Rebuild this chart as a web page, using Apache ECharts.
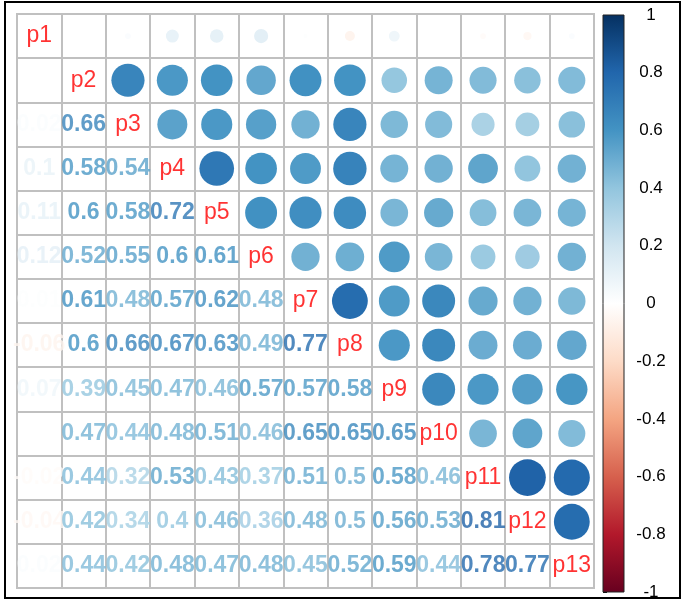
<!DOCTYPE html>
<html>
<head>
<meta charset="utf-8">
<script src="https://cdn.jsdelivr.net/npm/echarts@6/dist/echarts.min.js"></script>
<style>html,body{margin:0;padding:0;background:#fff}#c{width:683px;height:603px}</style>
</head>
<body>
<div id="c"></div>
<script>
// ---- data ----
const vars = ['p1','p2','p3','p4','p5','p6','p7','p8','p9','p10','p11','p12','p13'];
// lower-triangle columns: correlation of variable k with each following variable
const col_p1  = [0, 0.02, 0.1, 0.11, 0.12, 0.01, -0.06, 0.07, 0, -0.02, -0.04, 0.02];
const col_p2  = [0.66, 0.58, 0.6, 0.52, 0.61, 0.6, 0.39, 0.47, 0.44, 0.42, 0.44];
const col_p3  = [0.54, 0.58, 0.55, 0.48, 0.66, 0.45, 0.44, 0.32, 0.34, 0.42];
const col_p4  = [0.72, 0.6, 0.57, 0.67, 0.47, 0.48, 0.53, 0.4, 0.48];
const col_p5  = [0.61, 0.62, 0.63, 0.46, 0.51, 0.43, 0.46, 0.47];
const col_p6  = [0.48, 0.49, 0.57, 0.46, 0.37, 0.36, 0.48];
const col_p7  = [0.77, 0.57, 0.65, 0.51, 0.48, 0.45];
const col_p8  = [0.58, 0.65, 0.5, 0.5, 0.52];
const col_p9  = [0.65, 0.58, 0.56, 0.59];
const col_p10 = [0.46, 0.53, 0.44];
const col_p11 = [0.81, 0.78];
const col_p12 = [0.77];
const colorbarTicks = [-1, -0.8, -0.6, -0.4, -0.2, 0, 0.2, 0.4, 0.6, 0.8, 1];
const palette = ['#67001F','#B2182B','#D6604D','#F4A582','#FDDBC7','#FFFFFF','#D1E5F0','#92C5DE','#4393C3','#2166AC','#053061'];

const cols = [col_p1,col_p2,col_p3,col_p4,col_p5,col_p6,col_p7,col_p8,col_p9,col_p10,col_p11,col_p12];
const n = vars.length;

function hex2rgb(h){return [parseInt(h.slice(1,3),16),parseInt(h.slice(3,5),16),parseInt(h.slice(5,7),16)];}
function colorOf(r){
  const t = (r + 1) / 2 * (palette.length - 1);
  const i = Math.min(Math.floor(t), palette.length - 2);
  const f = t - i;
  const a = hex2rgb(palette[i]), b = hex2rgb(palette[i+1]);
  const c = a.map((v,k)=>Math.round(v + (b[k]-v)*f));
  return 'rgb(' + c.join(',') + ')';
}
function fmt(r){ return String(Math.round(r*100)/100); }

const circles = [], texts = [], diag = [];
cols.forEach((arr, k) => {
  arr.forEach((r, m) => {
    const j = k + 1 + m; // row variable index
    texts.push({value:[k, j, r], label:{color: colorOf(r)}});
    circles.push({value:[j, k, r], itemStyle:{color: colorOf(r), opacity:1}});
  });
});
vars.forEach((v,i)=>diag.push({value:[i,i], name:v}));

const cell = 44.4;
const chart = echarts.init(document.getElementById('c'));
const font = '"Liberation Sans", Arial, Helvetica, sans-serif';
chart.setOption({
  animation:false,
  backgroundColor:'#fff',
  grid:[
    {left:17, top:14, width:577, height:574, show:true, borderColor:'#C0C0C0', borderWidth:2, backgroundColor:'transparent'},
    {left:603, top:15, width:21, height:577}
  ],
  xAxis:[
    {type:'category', data:vars, gridIndex:0, boundaryGap:true,
     axisLine:{show:false}, axisTick:{show:false}, axisLabel:{show:false},
     splitLine:{show:true, interval:0, lineStyle:{color:'#C0C0C0', width:2}}},
    {type:'value', gridIndex:1, min:0, max:1, show:false}
  ],
  yAxis:[
    {type:'category', data:vars, gridIndex:0, inverse:true, boundaryGap:true,
     axisLine:{show:false}, axisTick:{show:false}, axisLabel:{show:false},
     splitLine:{show:true, interval:0, lineStyle:{color:'#C0C0C0', width:2}}},
    {type:'value', gridIndex:1, min:-1, max:1, interval:0.2, position:'right',
     axisLine:{show:false}, splitLine:{show:false},
     axisTick:{show:true, length:4, lineStyle:{color:'#000', width:1}},
     axisLabel:{show:true, margin:27, align:'center', color:'#000', fontSize:17, fontFamily:font,
       formatter:(v)=>String(Math.round(v*10)/10)}}
  ],
  series:[
    {type:'custom', xAxisIndex:1, yAxisIndex:1, silent:true,
     data:[[0,1,-1]],
     renderItem:(params, api)=>{
       const p0 = api.coord([0, 1]);
       const p1 = api.coord([1, -1]);
       const stops = palette.slice().reverse().map((c,i)=>({offset:i/(palette.length-1), color:c}));
       return {type:'rect', shape:{x:p0[0], y:p0[1], width:p1[0]-p0[0], height:p1[1]-p0[1]},
               style:{fill:new echarts.graphic.LinearGradient(0,0,0,1,stops), stroke:'#222', lineWidth:1}};
     }},
    {type:'scatter', xAxisIndex:0, yAxisIndex:0, data:circles, symbol:'circle',
     itemStyle:{opacity:1},
     symbolSize:(v)=>0.92*cell*Math.sqrt(Math.abs(v[2])), silent:true},
    {type:'scatter', xAxisIndex:0, yAxisIndex:0, data:texts, symbolSize:0, silent:true,
     label:{show:true, position:'inside', fontSize:23, fontWeight:'bold', fontFamily:font,
       formatter:(p)=>fmt(p.value[2])}},
    {type:'scatter', xAxisIndex:0, yAxisIndex:0, data:diag, symbolSize:0, silent:true,
     label:{show:true, position:'inside', fontSize:23, color:'#FF0000', fontFamily:font,
       formatter:(p)=>p.name}}
  ],
  graphic:[
    {type:'rect', shape:{x:5, y:2, width:675, height:596}, style:{fill:null, stroke:'#000', lineWidth:2}, silent:true}
  ]
});
</script>
</body>
</html>
